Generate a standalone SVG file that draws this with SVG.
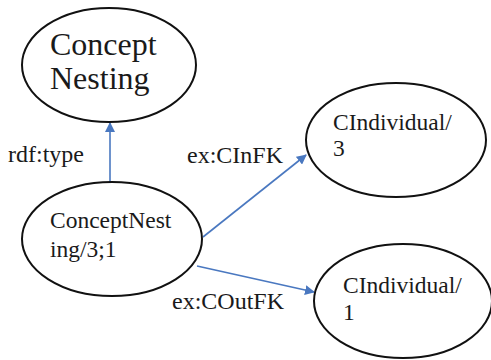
<svg xmlns="http://www.w3.org/2000/svg" width="491" height="360" viewBox="0 0 491 360">
<style>
.n{fill:#fff;stroke:#111;stroke-width:2}
.e{stroke:#4a78c0;stroke-width:1.6;fill:none;marker-end:url(#a)}
</style>
<defs>
<marker id="a" viewBox="0 0 10 10" refX="9" refY="5" markerWidth="10" markerHeight="10" markerUnits="userSpaceOnUse" orient="auto">
<path d="M0,0 L10,5 L0,10 z" fill="#4a78c0"/>
</marker>
</defs>
<rect width="491" height="360" fill="#fff"/>
<g font-family="Liberation Serif, Times New Roman, serif" fill="#1a1a1a">
<g id="connectors">
<line class="e" x1="110" y1="182" x2="110" y2="123"/>
<line class="e" x1="203" y1="237" x2="306" y2="155"/>
<line class="e" x1="197" y1="266" x2="314" y2="292"/>
<text x="8" y="162" font-size="24">rdf:type</text>
<text x="187" y="163" font-size="24">ex:CInFK</text>
<text x="172" y="309" font-size="24">ex:COutFK</text>
</g>
<g id="conceptNesting">
<ellipse class="n" cx="109" cy="65" rx="87" ry="57"/>
<text x="50" y="55" font-size="32">Concept</text>
<text x="50" y="89" font-size="32">Nesting</text>
</g>
<g id="conceptNesting31">
<ellipse class="n" cx="112" cy="239" rx="90" ry="57"/>
<text x="50" y="228" font-size="23.5">ConceptNest</text>
<text x="50" y="257" font-size="23.5">ing/3;1</text>
</g>
<g id="cIndividual3">
<ellipse class="n" cx="396" cy="140" rx="90" ry="57"/>
<text x="333" y="130" font-size="23.5">CIndividual/</text>
<text x="333" y="156" font-size="23.5">3</text>
</g>
<g id="cIndividual1">
<ellipse class="n" cx="403" cy="301" rx="89" ry="57"/>
<text x="343" y="293" font-size="23.5">CIndividual/</text>
<text x="343" y="320" font-size="23.5">1</text>
</g>
</g>
</svg>
